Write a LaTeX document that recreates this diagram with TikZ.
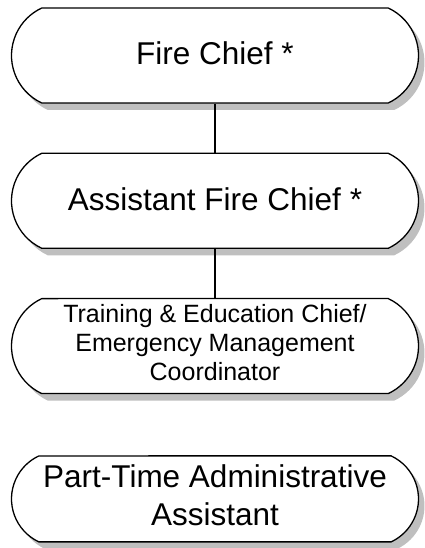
\documentclass[tikz,border=0pt]{standalone}
\usepackage{fontspec}
\setmainfont{Liberation Sans}
\usetikzlibrary{positioning,shapes.misc,shadows}

\begin{document}
\begin{tikzpicture}[x=1pt,y=1pt]
 		\tikzstyle{post}=[rounded rectangle, rounded rectangle arc length=130, minimum width=407pt, minimum height=95pt, draw=black, line width=1.3pt, fill=white, align=center, inner sep=0pt, drop shadow={shadow xshift=6pt, shadow yshift=-7pt, fill=black!25, opacity=1}, node distance=49pt]
 		\tikzstyle{connect}=[line width=1.1pt]
 		\tikzstyle{big}=[font=\fontsize{31.5}{38.5}\selectfont]
 		\useasboundingbox (0,0) rectangle (425,548);
 		\node[post, big] (chief) at (215,492.5) {\raisebox{4pt}{Fire Chief *}};
 		\node[post, big] (assistant) [below=of chief] {\raisebox{4pt}{Assistant Fire Chief *}};
 		\node[post, font=\fontsize{25}{29}\selectfont] (training) [below=of assistant] {\raisebox{5pt}{\begin{tabular}{@{}c@{}}Training \& Education Chief/\\ Emergency Management\\ Coordinator\end{tabular}}};
 		\node[post, big, minimum height=86pt] (parttime) [below=61pt of training] {\raisebox{4pt}{\begin{tabular}{@{}c@{}}Part-Time Administrative\\ Assistant\end{tabular}}};
 		\path (chief.south) edge [connect] (assistant.north)
 		(assistant.south) edge [connect] (training.north);
\end{tikzpicture}
\end{document}
